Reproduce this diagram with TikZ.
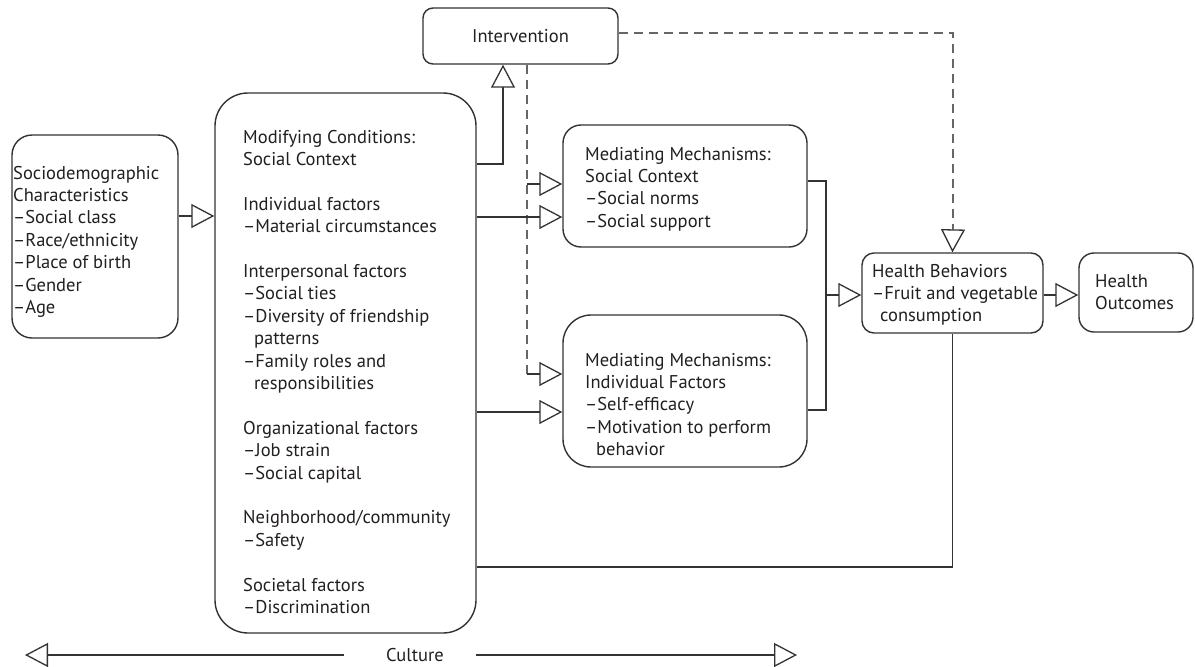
\documentclass[tikz,border=0pt]{standalone}
\usepackage{fontspec}
\setmainfont{PT Sans}
\usetikzlibrary{arrows.meta}
\definecolor{ln}{HTML}{333333}
\definecolor{dl}{HTML}{666666}
\definecolor{tx}{HTML}{231F20}
\newcommand\fsz{\fontsize{18.5}{22.4}\selectfont}
\newcommand\tb[1]{\parbox[t]{260pt}{\raggedright\fsz #1}}
\newcommand\ind{\hspace*{11pt}}
\begin{document}
\begin{tikzpicture}[x=1pt,y=-1pt,
  box/.style={draw=ln, line width=1.4pt, rounded corners=#1, inner sep=0pt, fill=white},
  box/.default=15pt,
  txt/.style={anchor=base west, inner sep=0pt, text=tx},
  lnk/.style={draw=ln, line width=1.3pt},
  tri/.style={lnk, -{Triangle[open, length=23pt, width=24pt, line width=1.3pt]}},
  dsh/.style={draw=dl, line width=1.3pt, dash pattern=on 9pt off 6pt},
]
\useasboundingbox (0,0) rectangle (1195,667);
\fill[white] (0,0) rectangle (1195,667);

% boxes
\node[box=20pt, minimum width=166pt, minimum height=203pt] (soc) at (95,236.5) {};
\node[box=33pt, minimum width=261pt, minimum height=540pt] (mod) at (345.5,363) {};
\node[box=10pt, minimum width=195pt, minimum height=56pt] (int) at (520.5,36) {};
\node[box=18pt, minimum width=244pt, minimum height=122pt] (med1) at (685,186) {};
\node[box=28pt, minimum width=244pt, minimum height=152pt] (med2) at (685,391) {};
\node[box=12pt, minimum width=181pt, minimum height=80pt] (hb) at (952.5,293) {};
\node[box=15pt, minimum width=114pt, minimum height=79pt] (ho) at (1136,292.5) {};

% texts
\node[txt] (soct) at (13,179) {\tb{Sociodemographic\\Characteristics\\–Social class\\–Race/ethnicity\\–Place of birth\\–Gender\\–Age}};
\node[txt] (modt) at (243,143) {\tb{Modifying Conditions:\\Social Context\\[22.4pt]Individual factors\\–Material circumstances\\[22.4pt]Interpersonal factors\\–Social ties\\–Diversity of friendship\\\ind patterns\\–Family roles and\\\ind responsibilities\\[22.4pt]Organizational factors\\–Job strain\\–Social capital\\[22.4pt]Neighborhood/community\\–Safety\\[22.4pt]Societal factors\\–Discrimination}};
\node[inner sep=0pt, text=tx, font=\fsz] (intt) at (int.center) {Intervention};
\node[txt] (med1t) at (585,160) {\tb{Mediating Mechanisms:\\Social Context\\–Social norms\\–Social support}};
\node[txt] (med2t) at (585,366) {\tb{Mediating Mechanisms:\\Individual Factors\\–Self-efficacy\\–Motivation to perform\\\ind behavior}};
\node[txt] (hbt) at (872,277) {\tb{Health Behaviors\\–Fruit and vegetable\\\hspace*{8pt}consumption}};
\node[txt] (hot) at (1095,287) {\tb{Health\\Outcomes}};
\node[inner sep=0pt, text=tx, font=\fsz] (cul) at (415,655) {Culture};

% connector coordinates
\coordinate (dk) at (527,184);
\coordinate (dj) at (527,374);
\coordinate (mj) at (826,295);
\coordinate (iv) at (953,229);
\coordinate (cl) at (25,655);
\coordinate (cr) at (797,655);

% connectors
\draw[tri] (soc.east |- 0,216) -- (mod.west |- 0,216);
\draw[tri] (mod.east |- 0,164) -| (int.south -| 503,0);
\draw[dsh] (int.south -| dj) -- (dj);
\draw[tri] (dk) -- (med1.west |- dk);
\draw[tri] (dj) -- (med2.west |- dj);
\draw[tri] (mod.east |- 0,217) -- (med1.west |- 0,217);
\draw[tri] (mod.east |- 0,412) -- (med2.west |- 0,412);
\draw[lnk] (mod.east |- 0,567) -| (hb.south);
\draw[lnk] (med1.east |- 0,181) -| (826,410) -- (med2.east |- 0,410);
\draw[tri] (mj) -- (hb.west |- mj);
\draw[dsh] (int.east |- 0,33) -| (iv);
\draw[tri] (iv) -- (hb.north);
\draw[tri] (hb.east |- 0,295) -- (ho.west |- 0,295);
\draw[tri] ([xshift=-42pt]cul.west) -- (cl);
\draw[tri] ([xshift=32pt]cul.east) -- (cr);
\end{tikzpicture}
\end{document}
